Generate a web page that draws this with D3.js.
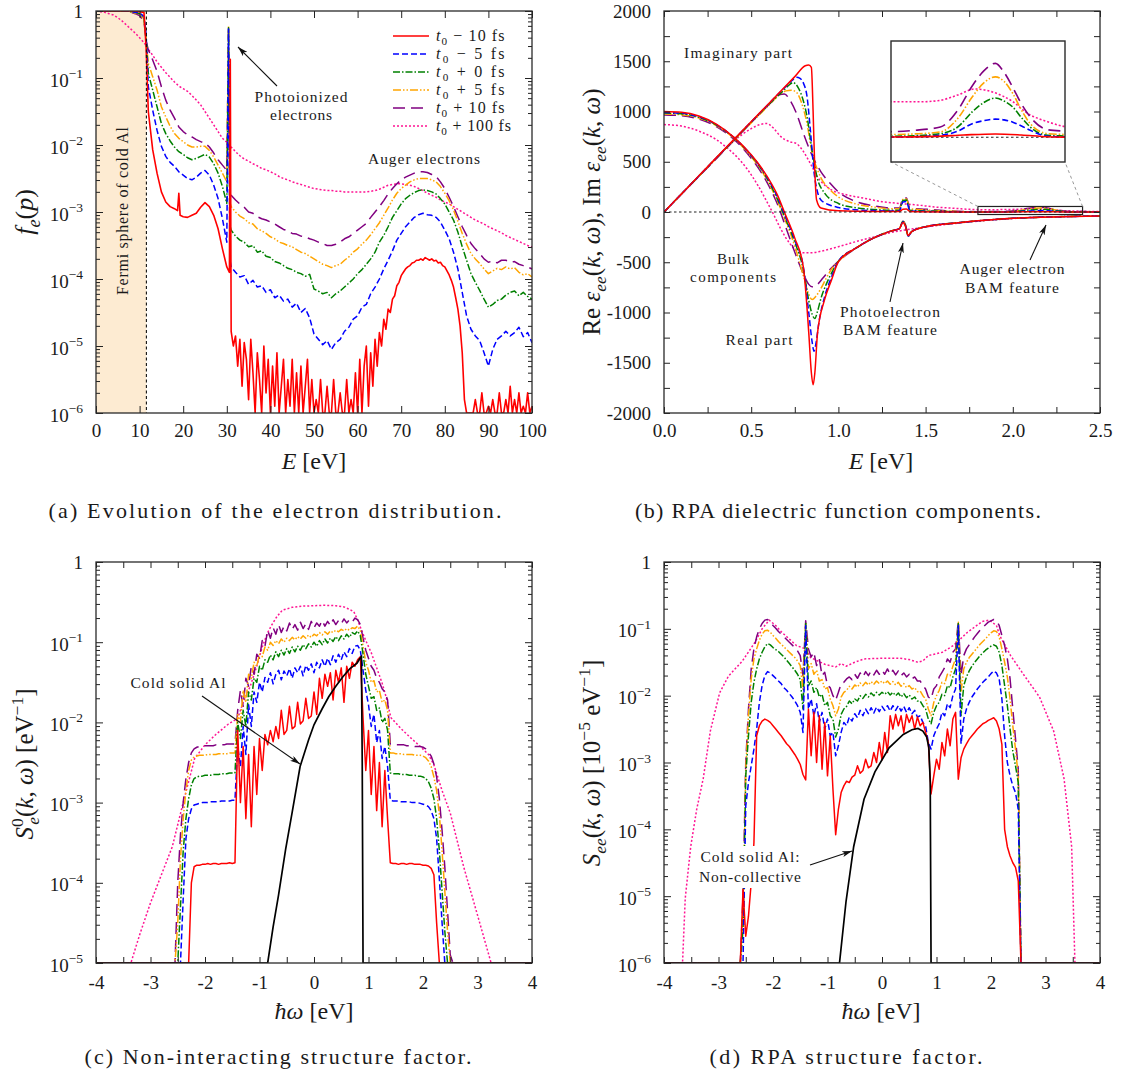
<!DOCTYPE html>
<html>
<head>
<meta charset="utf-8">
<script src="https://cdn.jsdelivr.net/npm/d3@7/dist/d3.min.js"></script>
<style>
html,body{margin:0;padding:0;background:#fff;}
svg{display:block;}
text{font-family:"Liberation Serif","Times New Roman",serif;fill:#1a1a1a;}
</style>
</head>
<body>
<svg id="fig" width="1121" height="1075" viewBox="0 0 1121 1075"></svg>
<script>
// ================= SERIES META =================
const seriesTimes  = ["− 10 fs","− 5 fs","+ 0 fs","+ 5 fs","+ 10 fs","+ 100 fs"];
const seriesColors = ["#ff0000","#0000ff","#008000","#ffa500","#800080","#ff1493"];
const seriesDash   = [null,"6,3","7,2,1.5,2","8,2,1.5,2,1.5,2","12,6","2,2"];

// ================= PANEL (a): f_e(p) vs E [eV], values stored as log10 =================
const FERMI_E = 11.56;
const E_a = [0,1,2,3,4,5,6,7,8,9,10,11,11.5,12,13,14,15,16,17,18,19,20,21,22,23,24,25,26,27,28,29,30,30.4,30.7,
  31,32,33,34,35,36,37,38,39,40,41,42,43,44,45,46,47,48,49,50,51,52,53,54,55,56,57,58,59,60,
  61,62,63,64,65,66,67,68,69,70,71,72,73,74,75,76,77,78,79,80,81,82,83,84,85,86,87,88,89,90,
  91,92,93,94,95,96,97,98,99,100];
const fe_tm5 = [0,0,0,0,0,0,0,0,-0.01,-0.02,-0.03,-0.08,-0.35,
  -1.13,-1.48,-1.78,-2.02,-2.17,-2.26,-2.32,-2.4,-2.45,-2.5,-2.52,-2.48,-2.42,-2.38,-2.45,-2.6,-2.8,-3.1,-3.45,
  -0.27,-3.7,
  -3.82,-3.9,-3.97,-3.95,-4.08,-4.02,-4.12,-4.1,-4.2,-4.16,
  -4.28,-4.24,-4.33,-4.3,-4.42,-4.36,-4.5,-4.44,-4.58,-4.82,
  -4.9,-4.98,-4.92,-5.05,-4.95,-4.9,-4.78,-4.72,-4.6,-4.55,
  -4.42,-4.38,-4.22,-4.12,-4.0,-3.85,-3.72,-3.58,-3.42,-3.32,
  -3.22,-3.15,-3.08,-3.04,-3.02,-3.04,-3.05,-3.08,-3.15,-3.27,
  -3.4,-3.6,-3.85,-4.2,-4.55,-4.75,-4.85,-4.92,-5.1,-5.3,
  -5.05,-4.9,-4.85,-4.78,-4.85,-4.8,-4.72,-4.86,-4.8,-4.95];
const fe_t0 = [0,0,0,0,0,0,0,0,-0.01,-0.02,-0.04,-0.1,-0.4,
  -0.93,-1.18,-1.43,-1.68,-1.83,-1.94,-2.03,-2.1,-2.14,-2.19,-2.22,-2.2,-2.17,-2.14,-2.18,-2.28,-2.42,-2.62,-2.87,
  -0.25,-3.2,
  -3.27,-3.36,-3.42,-3.45,-3.52,-3.5,-3.6,-3.58,-3.66,-3.68,
  -3.74,-3.76,-3.8,-3.84,-3.86,-3.9,-3.92,-3.96,-3.93,-4.15,
  -4.18,-4.22,-4.2,-4.28,-4.22,-4.18,-4.12,-4.06,-4.0,-3.92,
  -3.86,-3.78,-3.7,-3.6,-3.45,-3.35,-3.22,-3.08,-2.98,-2.88,
  -2.8,-2.75,-2.71,-2.68,-2.67,-2.68,-2.7,-2.73,-2.8,-2.88,
  -3.0,-3.12,-3.3,-3.52,-3.72,-3.92,-4.05,-4.17,-4.3,-4.42,
  -4.38,-4.32,-4.3,-4.24,-4.2,-4.18,-4.25,-4.2,-4.26,-4.3];
const fe_tp5 = [0,0,0,0,0,0,0,0,-0.01,-0.03,-0.05,-0.12,-0.45,
  -0.78,-0.98,-1.18,-1.43,-1.58,-1.72,-1.83,-1.9,-1.95,-2.0,-2.03,-2.03,-2.02,-2.02,-2.08,-2.18,-2.3,-2.42,-2.55,
  -0.22,-2.85,
  -2.92,-3.0,-3.06,-3.1,-3.16,-3.18,-3.25,-3.28,-3.32,-3.37,
  -3.4,-3.45,-3.47,-3.5,-3.52,-3.56,-3.6,-3.62,-3.66,-3.7,
  -3.74,-3.78,-3.8,-3.83,-3.8,-3.78,-3.72,-3.67,-3.6,-3.55,
  -3.48,-3.42,-3.34,-3.25,-3.16,-3.05,-2.94,-2.82,-2.72,-2.65,
  -2.6,-2.55,-2.52,-2.5,-2.5,-2.5,-2.52,-2.55,-2.62,-2.72,
  -2.83,-2.97,-3.14,-3.32,-3.48,-3.62,-3.7,-3.77,-3.85,-3.92,
  -3.88,-3.84,-3.86,-3.82,-3.85,-3.83,-3.9,-3.94,-3.92,-3.97];
const fe_tp10 = [0,0,0,0,0,0,0,0,-0.02,-0.04,-0.07,-0.15,-0.45,
  -0.58,-0.73,-0.9,-1.13,-1.33,-1.48,-1.6,-1.73,-1.8,-1.85,-1.88,-1.92,-1.95,-1.97,-2.03,-2.12,-2.22,-2.3,-2.38,
  -0.25,-2.68,
  -2.75,-2.82,-2.88,-2.93,-3.0,-3.02,-3.07,-3.1,-3.12,-3.15,
  -3.18,-3.22,-3.26,-3.28,-3.32,-3.33,-3.36,-3.37,-3.4,-3.42,
  -3.45,-3.47,-3.5,-3.5,-3.48,-3.45,-3.4,-3.37,-3.32,-3.27,
  -3.22,-3.17,-3.08,-3.0,-2.92,-2.83,-2.73,-2.65,-2.58,-2.52,
  -2.48,-2.45,-2.42,-2.4,-2.4,-2.41,-2.44,-2.47,-2.55,-2.65,
  -2.78,-2.92,-3.07,-3.22,-3.35,-3.47,-3.55,-3.62,-3.7,-3.75,
  -3.73,-3.76,-3.72,-3.72,-3.75,-3.74,-3.78,-3.8,-3.82,-3.85];
const fe_tp100 = [0,-0.01,-0.02,-0.04,-0.06,-0.1,-0.15,-0.21,-0.27,-0.33,-0.4,-0.47,-0.52,
  -0.57,-0.66,-0.76,-0.84,-0.92,-0.99,-1.06,-1.12,-1.16,-1.2,-1.26,-1.33,-1.4,-1.5,-1.6,-1.7,-1.8,-1.9,-1.96,
  -1.98,-2.0,
  -2.03,-2.1,-2.16,-2.21,-2.24,-2.28,-2.31,-2.35,-2.37,-2.4,
  -2.43,-2.47,-2.5,-2.52,-2.55,-2.57,-2.59,-2.61,-2.63,-2.65,
  -2.66,-2.67,-2.68,-2.68,-2.69,-2.69,-2.7,-2.7,-2.7,-2.7,
  -2.7,-2.7,-2.69,-2.68,-2.66,-2.63,-2.6,-2.59,-2.58,-2.58,
  -2.59,-2.6,-2.62,-2.65,-2.68,-2.72,-2.75,-2.78,-2.82,-2.85,
  -2.88,-2.92,-2.96,-3.0,-3.04,-3.08,-3.12,-3.15,-3.18,-3.22,
  -3.25,-3.28,-3.31,-3.35,-3.38,-3.41,-3.44,-3.47,-3.5,-3.52];
// red (t0 - 10 fs): own sampling
const E_a_red = [0,1,2,3,4,5,6,7,8,9,10,11,11.5,12,13,14,15,16,17,18,18.7,19,19.3,20,21,22,23,24,25,26,27,28,29,30,30.6,30.8,31];
const fe_tm10 = [0,0,0,0,0,0,0,0,0,0,-0.01,-0.02,-0.55,-1.5,-2.07,-2.42,-2.7,-2.85,-2.92,-2.95,-2.98,-2.72,-3.05,
  -3.07,-3.08,-3.05,-3.02,-2.93,-2.86,-2.92,-3.05,-3.25,-3.55,-3.82,-3.9,-0.72,-4.78];
const redNoiseStartE = 31.5, redNoiseStepE = 0.5;
const fe_tm10_noise = [
  -5.0,-4.85,-5.3,-4.9,-5.6,-4.95,-5.2,-5.8,-4.9,-5.4,
  -6.0,-5.1,-5.5,-6.2,-5.0,-5.7,-5.2,-6.3,-5.3,-5.9,
  -5.1,-6.5,-5.6,-5.2,-6.3,-5.5,-5.9,-5.2,-6.5,-5.4,
  -6.1,-5.3,-6.5,-5.6,-5.2,-6.4,-5.5,-6.5,-5.8,-6.5,
  -5.5,-6.5,-6.0,-5.6,-6.5,-6.1,-5.5,-6.5,-6.5,-5.7,
  -6.5,-6.0,-5.5,-6.5,-5.8,-6.5,-5.4,-6.3,-5.2,-6.0,
  -5.3,-5.0,-5.9,-5.1,-5.6,-4.9,-5.3,-4.8,-5.0,-4.6,
  -4.75,-4.45,-4.5,-4.3,-4.25,-4.1,-4.05,-3.95,-3.9,-3.85,
  -3.82,-3.8,-3.76,-3.75,-3.72,-3.72,-3.7,-3.72,-3.68,-3.7,
  -3.72,-3.7,-3.73,-3.72,-3.76,-3.75,-3.8,-3.82,-3.88,-3.94,
  -4.02,-4.12,-4.28,-4.45,-4.7,-5.1,-5.8,-6.5,-6.5,-6.5,
  -6.5,-5.8,-6.5,-6.5,-5.7,-6.5,-6.5,-5.9,-6.5,-5.8,
  -6.5,-6.5,-5.7,-6.5,-6.2,-5.8,-6.5,-5.6,-6.5,-5.8,
  -6.5,-5.7,-6.5,-5.9,-6.3,-5.7,-6.5,-5.9];

// ================= PANEL (b): dielectric function, pairs [E, value] =================
const re_tm10 = [[0,1000],[0.1,992],[0.2,955],[0.3,875],[0.4,745],[0.5,570],[0.55,460],[0.6,330],[0.65,170],[0.69,0],[0.75,-260],[0.8,-560],[0.83,-1200],[0.845,-1600],[0.855,-1720],[0.865,-1600],[0.88,-1210],[0.92,-877],[0.96,-678],[1.0,-495],[1.1,-360],[1.2,-260],[1.3,-190],[1.35,-165],[1.37,-105],[1.385,-145],[1.4,-235],[1.42,-195],[1.5,-146],[1.7,-105],[2.0,-63],[2.5,-40]];
const re_tm5 = [[0,990],[0.1,982],[0.2,948],[0.3,870],[0.4,742],[0.5,565],[0.55,455],[0.6,320],[0.65,150],[0.69,-20],[0.75,-280],[0.8,-560],[0.83,-1000],[0.85,-1300],[0.86,-1385],[0.87,-1320],[0.89,-1080],[0.92,-850],[0.96,-650],[1.0,-490],[1.1,-360],[1.2,-260],[1.3,-190],[1.35,-165],[1.37,-100],[1.385,-140],[1.4,-240],[1.42,-195],[1.5,-146],[1.7,-105],[2.0,-63],[2.5,-40]];
const re_t0 = [[0,985],[0.1,977],[0.2,943],[0.3,866],[0.4,740],[0.5,560],[0.55,448],[0.6,305],[0.65,130],[0.69,-40],[0.75,-300],[0.8,-580],[0.83,-880],[0.85,-1020],[0.865,-1060],[0.88,-990],[0.9,-860],[0.93,-720],[0.96,-610],[1.0,-490],[1.1,-360],[1.2,-260],[1.3,-190],[1.35,-165],[1.37,-95],[1.385,-135],[1.4,-240],[1.42,-195],[1.5,-146],[1.7,-105],[2.0,-63],[2.5,-40]];
const re_tp5 = [[0,975],[0.1,968],[0.2,935],[0.3,860],[0.4,735],[0.5,550],[0.55,435],[0.6,290],[0.65,110],[0.69,-60],[0.75,-340],[0.8,-640],[0.83,-820],[0.85,-870],[0.87,-840],[0.9,-760],[0.93,-660],[0.96,-570],[1.0,-490],[1.1,-360],[1.2,-260],[1.3,-190],[1.35,-163],[1.37,-90],[1.385,-130],[1.4,-235],[1.42,-195],[1.5,-146],[1.7,-105],[2.0,-63],[2.5,-40]];
const re_tp10 = [[0,965],[0.1,958],[0.2,925],[0.3,850],[0.4,725],[0.5,535],[0.55,415],[0.6,265],[0.65,80],[0.7,-160],[0.75,-400],[0.8,-620],[0.83,-720],[0.85,-745],[0.88,-720],[0.91,-660],[0.95,-575],[1.0,-490],[1.1,-362],[1.2,-262],[1.3,-192],[1.35,-165],[1.37,-92],[1.385,-130],[1.4,-235],[1.42,-195],[1.5,-146],[1.7,-105],[2.0,-63],[2.5,-40]];
const re_tp100 = [[0,870],[0.1,855],[0.2,805],[0.3,720],[0.36,640],[0.42,545],[0.48,420],[0.54,260],[0.6,70],[0.63,-30],[0.67,-170],[0.72,-310],[0.76,-385],[0.8,-405],[0.85,-405],[0.9,-390],[1.0,-345],[1.1,-295],[1.2,-250],[1.3,-205],[1.38,-180],[1.5,-150],[1.7,-108],[2.0,-65],[2.5,-40]];
const im_tm10 = [[0,0],[0.2,360],[0.4,720],[0.6,1078],[0.75,1347],[0.81,1455],[0.83,1462],[0.845,1440],[0.855,1000],[0.865,400],[0.875,120],[0.9,40],[1.0,12],[1.2,5],[1.35,5],[1.37,28],[1.39,30],[1.41,5],[1.6,1],[1.8,0.2],[1.95,0.6],[2.05,1.5],[2.16,2.2],[2.25,1.5],[2.34,0.3],[2.4,0.1],[2.5,0]];
const im_tm5 = [[0,0],[0.2,359],[0.4,718],[0.6,1075],[0.7,1252],[0.74,1318],[0.76,1342],[0.78,1330],[0.8,1280],[0.82,1150],[0.84,800],[0.86,400],[0.88,200],[0.9,120],[0.95,70],[1.0,45],[1.1,22],[1.2,14],[1.3,10],[1.35,12],[1.37,100],[1.39,105],[1.41,12],[1.5,6],[1.65,2],[1.8,0.2],[1.88,0.4],[1.97,1.3],[2.03,4],[2.08,9],[2.12,11],[2.16,12],[2.19,11.5],[2.22,10],[2.25,7.5],[2.28,4.6],[2.34,0.7],[2.4,0.3],[2.5,0.1]];
const im_t0 = [[0,0],[0.2,358],[0.4,715],[0.6,1070],[0.68,1200],[0.72,1268],[0.74,1288],[0.77,1235],[0.8,1100],[0.82,950],[0.85,600],[0.88,330],[0.92,190],[1.0,85],[1.1,42],[1.2,26],[1.3,17],[1.35,18],[1.37,115],[1.39,120],[1.41,18],[1.5,11],[1.65,4],[1.8,0.7],[1.88,1],[1.97,2.4],[2.03,6.8],[2.08,16.8],[2.12,23],[2.16,26],[2.19,24],[2.22,20],[2.25,13],[2.28,6.8],[2.34,1.3],[2.4,0.8],[2.5,0.3]];
const im_tp5 = [[0,0],[0.2,356],[0.4,712],[0.6,1060],[0.66,1165],[0.7,1205],[0.73,1212],[0.76,1190],[0.79,1080],[0.82,880],[0.85,580],[0.88,420],[0.9,340],[0.95,225],[1.0,150],[1.1,80],[1.2,50],[1.3,32],[1.35,33],[1.37,125],[1.39,130],[1.41,33],[1.5,20],[1.65,7],[1.8,1.8],[1.88,2.2],[1.97,3.5],[2.03,12.4],[2.08,26.7],[2.12,36],[2.16,40],[2.19,37],[2.22,29],[2.25,18],[2.28,9],[2.34,2.4],[2.4,1.8],[2.5,1]];
const im_tp10 = [[0,0],[0.2,355],[0.4,708],[0.55,980],[0.62,1100],[0.66,1165],[0.69,1175],[0.72,1120],[0.76,980],[0.8,780],[0.85,560],[0.9,400],[0.95,290],[1.0,200],[1.1,105],[1.2,62],[1.3,40],[1.35,40],[1.37,135],[1.39,140],[1.41,40],[1.5,28],[1.65,10],[1.8,3.7],[1.88,4.6],[1.97,6.8],[2.03,17.9],[2.08,34],[2.12,44],[2.16,49],[2.19,43],[2.22,33],[2.25,22],[2.28,13.5],[2.34,5],[2.4,4],[2.5,3]];
const im_tp100 = [[0,0],[0.2,355],[0.4,705],[0.5,830],[0.55,870],[0.59,880],[0.63,830],[0.67,750],[0.72,700],[0.76,680],[0.8,600],[0.84,480],[0.88,350],[0.92,270],[0.96,220],[1.05,170],[1.15,136],[1.25,103],[1.35,85],[1.45,70],[1.55,50],[1.66,37],[1.75,27],[1.8,23.6],[1.9,23.5],[1.97,24.5],[2.03,28],[2.09,32],[2.15,30],[2.22,23.6],[2.27,15.9],[2.34,10.3],[2.4,7],[2.5,5]];
const insetRangeE = [1.8, 2.4];
const insetRangeV = [-16.4, 63.8];
const zoomBox = [[1.8,-25],[2.4,55]];

// ================= PANELS (c),(d): structure factors, log10 values =================
const FLOOR = -7;   // below the axis: line lies on the bottom frame
const OMEGA_START = -2.6, OMEGA_STEP = 0.05;   // 105 samples, -2.6 ... 2.6
const S0_tm10 = [-7,-7,-7,-7,-7,-7,-5.5,-4.0,-3.8,-3.78,-3.78,
  -3.77,-3.77,-3.76,-3.77,-3.76,-3.76,-3.77,-3.76,-3.76,-3.76,-3.75,-3.76,-3.75,
  -2.1,-3.0,-2.3,-3.2,-2.4,-3.3,-2.3,-2.9,-2.2,-2.6,
  -2.15,-2.28,-2.1,-2.24,-2.05,-2.2,-1.85,-2.15,-2.1,-1.8,
  -2.08,-2.05,-1.75,-2.02,-1.98,-1.7,-1.95,-1.92,-1.62,-1.9,
  -1.45,-1.7,-1.4,-1.55,-1.38,-1.72,-1.35,-1.5,-1.32,-1.75,
  -1.3,-1.45,-1.25,-1.3,-1.22,-1.18,-1.95,-2.6,-2.1,-2.9,
  -2.3,-3.1,-2.5,-3.3,-2.6,-3.2,-3.75,
  -3.76,-3.76,-3.77,-3.76,-3.76,-3.77,-3.76,-3.76,-3.77,-3.77,-3.77,-3.78,-3.78,-3.79,
  -3.82,-3.9,-4.5,-7,-7,-7,-7,-7,-7,-7];
const S0_tm5 = [-7,-7,-7,-5.3,-4.2,-3.45,-3.2,-3.08,-3.03,-3.02,-3.01,
  -3.0,-3.0,-3.0,-2.99,-2.99,-2.99,-2.99,-2.98,-2.98,-2.98,-2.98,-2.97,-2.97,
  -2.3,-2.55,-2.05,-2.4,-1.78,-2.05,-1.62,-1.75,-1.5,-1.62,
  -1.44,-1.5,-1.38,-1.52,-1.4,-1.35,-1.47,-1.36,-1.42,-1.33,
  -1.45,-1.32,-1.38,-1.3,-1.42,-1.29,-1.35,-1.27,-1.38,-1.25,
  -1.32,-1.22,-1.3,-1.2,-1.28,-1.17,-1.25,-1.15,-1.22,-1.12,
  -1.18,-1.08,-1.14,-1.05,-1.04,-1.1,-1.35,-1.6,-1.78,-2.05,
  -1.9,-2.25,-2.1,-2.45,-2.3,-2.55,-2.97,
  -2.98,-2.98,-2.98,-2.99,-2.99,-2.99,-2.99,-3.0,-3.0,-3.0,-3.01,-3.02,
  -3.03,-3.05,-3.1,-3.2,-3.45,-3.95,-4.5,-5.3,-7,-7,-7,-7];
const S0_t0 = [-7,-7,-5.5,-4.3,-3.6,-3.2,-2.95,-2.78,-2.7,-2.68,-2.67,
  -2.67,-2.66,-2.66,-2.66,-2.65,-2.65,-2.65,-2.64,-2.64,-2.64,-2.63,-2.63,-2.63,
  -2.0,-2.2,-1.85,-2.05,-1.62,-1.72,-1.45,-1.5,-1.3,-1.35,
  -1.22,-1.25,-1.16,-1.22,-1.12,-1.18,-1.1,-1.16,-1.08,-1.14,
  -1.06,-1.12,-1.05,-1.1,-1.03,-1.08,-1.02,-1.06,-1.0,-1.05,
  -0.98,-1.03,-0.96,-1.01,-0.95,-0.99,-0.93,-0.98,-0.92,-0.96,
  -0.9,-0.94,-0.88,-0.9,-0.86,-0.92,-1.15,-1.4,-1.55,-1.7,
  -1.68,-1.85,-1.82,-2.0,-1.95,-2.1,-2.63,
  -2.64,-2.64,-2.64,-2.65,-2.65,-2.65,-2.66,-2.66,-2.66,-2.67,-2.67,
  -2.68,-2.7,-2.74,-2.82,-2.95,-3.2,-3.6,-4.1,-4.6,-5.4,-7,-7,-7];
const S0_tp5 = [-7,-5.6,-4.5,-3.7,-3.2,-2.85,-2.6,-2.47,-2.43,-2.42,-2.41,
  -2.41,-2.41,-2.4,-2.4,-2.4,-2.4,-2.39,-2.39,-2.39,-2.39,-2.38,-2.38,-2.38,
  -1.9,-2.0,-1.6,-1.75,-1.4,-1.45,-1.25,-1.3,-1.15,-1.18,
  -1.06,-1.1,-1.0,-1.04,-0.98,-1.02,-0.96,-1.0,-0.95,-0.98,
  -0.94,-0.97,-0.93,-0.96,-0.92,-0.95,-0.91,-0.94,-0.9,-0.92,
  -0.88,-0.91,-0.87,-0.9,-0.86,-0.88,-0.85,-0.87,-0.84,-0.86,
  -0.83,-0.85,-0.82,-0.83,-0.8,-0.85,-1.05,-1.25,-1.35,-1.5,
  -1.48,-1.62,-1.6,-1.75,-1.72,-1.85,-2.38,
  -2.38,-2.39,-2.39,-2.39,-2.4,-2.4,-2.4,-2.4,-2.41,-2.41,-2.41,
  -2.42,-2.44,-2.48,-2.55,-2.68,-2.85,-3.15,-3.6,-4.1,-4.6,-5.4,-7,-7];
const S0_tp10 = [-7,-5.2,-4.0,-3.4,-3.0,-2.7,-2.5,-2.38,-2.33,-2.31,-2.3,
  -2.3,-2.29,-2.29,-2.29,-2.29,-2.28,-2.28,-2.28,-2.28,-2.27,-2.27,-2.27,-2.27,
  -1.85,-1.6,-1.8,-1.45,-1.55,-1.3,-1.4,-1.15,-1.2,-0.98,
  -1.05,-0.85,-0.95,-0.82,-0.9,-0.78,-0.88,-0.8,-0.86,-0.76,
  -0.84,-0.78,-0.85,-0.75,-0.83,-0.77,-0.84,-0.74,-0.82,-0.76,
  -0.8,-0.73,-0.8,-0.74,-0.79,-0.72,-0.78,-0.73,-0.77,-0.71,
  -0.76,-0.72,-0.75,-0.7,-0.72,-0.78,-0.95,-1.1,-1.2,-1.3,
  -1.35,-1.45,-1.5,-1.58,-1.62,-1.72,-2.27,
  -2.27,-2.28,-2.28,-2.28,-2.28,-2.29,-2.29,-2.29,-2.3,-2.3,-2.3,
  -2.31,-2.33,-2.37,-2.42,-2.52,-2.68,-2.95,-3.35,-3.8,-4.35,-4.9,-6,-7];
const S0_tp100 = [[-4,-7],[-3.36,-5.0],[-3.2,-4.65],[-3.0,-4.25],[-2.8,-3.9],[-2.6,-3.55],[-2.4,-3.0],[-2.19,-2.45],[-2.0,-2.28],[-1.8,-2.15],[-1.57,-2.02],[-1.4,-1.95],[-1.3,-1.75],[-1.17,-1.55],[-1.05,-1.3],[-0.94,-1.04],[-0.85,-0.88],[-0.78,-0.79],[-0.68,-0.68],[-0.58,-0.6],[-0.4,-0.565],[-0.2,-0.55],[0,-0.545],[0.2,-0.54],[0.4,-0.545],[0.55,-0.56],[0.65,-0.59],[0.73,-0.62],[0.8,-0.72],[0.86,-0.83],[0.95,-0.98],[1.05,-1.13],[1.15,-1.32],[1.25,-1.51],[1.33,-1.7],[1.41,-1.94],[1.6,-2.08],[1.77,-2.19],[1.95,-2.3],[2.1,-2.4],[2.2,-2.53],[2.35,-2.85],[2.5,-3.13],[2.75,-3.81],[3.02,-4.45],[3.25,-5.0],[3.3,-7],[4,-7]];
const S0_cold = [[-4,-7],[-0.85,-5.0],[-0.75,-4.55],[-0.65,-4.15],[-0.52,-3.58],[-0.4,-3.12],[-0.255,-2.55],[-0.1,-2.22],[0.0,-2.03],[0.15,-1.83],[0.27,-1.68],[0.4,-1.55],[0.53,-1.43],[0.66,-1.33],[0.79,-1.26],[0.845,-1.2],[0.87,-1.18],[0.885,-2.5],[0.9,-5.0],[4,-7]];

const See_tm10 = [-7,-4.9,-5.6,-5.3,-4.8,-4.2,-2.6,-2.45,-2.38,-2.35,-2.37,
  -2.4,-2.45,-2.5,-2.55,-2.6,-2.66,-2.72,-2.76,-2.82,-2.88,-2.95,-3.03,-3.18,
  -3.26,-2.2,-2.9,-2.25,-3.0,-2.3,-3.1,-2.4,-3.2,-2.6,
  -3.4,-4.08,-3.7,-3.45,-3.35,-3.28,-3.3,-3.22,-3.19,-3.05,
  -3.16,-3.12,-2.95,-3.08,-3.05,-2.85,-3.0,-2.7,-2.96,-2.55,
  -2.85,-2.3,-2.5,-2.28,-2.45,-2.3,-2.55,-2.28,-2.4,-2.3,
  -2.5,-2.32,-2.45,-2.4,-2.55,-2.7,-3.47,-3.2,-2.95,-3.1,
  -2.7,-2.9,-2.5,-2.75,-2.35,-2.25,-3.25,
  -2.93,-2.8,-2.72,-2.65,-2.6,-2.55,-2.5,-2.46,-2.42,-2.4,-2.37,-2.35,
  -2.33,-2.38,-2.5,-2.73,-4.0,-4.26,-4.4,-4.5,-4.57,-4.77,-7,-7];
const See_tm5 = [-7,-6,-3.65,-3.3,-3.05,-2.8,-2.5,-2.1,-1.85,-1.7,-1.64,
  -1.66,-1.7,-1.74,-1.78,-1.82,-1.88,-1.92,-1.97,-2.02,-2.08,-2.15,-2.25,-2.55,
  -0.95,-2.2,-2.05,-2.3,-2.12,-2.4,-2.25,-2.5,-2.35,-2.6,
  -2.55,-2.9,-2.75,-2.55,-2.4,-2.45,-2.32,-2.38,-2.27,-2.33,
  -2.22,-2.3,-2.2,-2.27,-2.18,-2.26,-2.17,-2.24,-2.16,-2.22,
  -2.15,-2.23,-2.15,-2.22,-2.15,-2.23,-2.16,-2.25,-2.18,-2.27,
  -2.22,-2.32,-2.3,-2.4,-2.45,-2.7,-2.8,-2.6,-2.5,-2.42,
  -2.25,-2.3,-2.12,-2.18,-2.0,-1.9,-0.95,
  -2.72,-2.35,-2.2,-2.1,-2.02,-1.96,-1.9,-1.85,-1.8,-1.76,-1.72,-1.67,
  -1.63,-1.66,-1.75,-2.05,-2.6,-3.0,-3.2,-3.35,-3.45,-3.7,-6,-7];
const See_t0 = [-7,-5.5,-3.2,-2.6,-2.1,-1.8,-1.6,-1.45,-1.35,-1.27,-1.22,
  -1.24,-1.28,-1.31,-1.34,-1.38,-1.42,-1.47,-1.52,-1.57,-1.62,-1.68,-1.76,-2.2,
  -0.92,-1.85,-1.78,-1.95,-1.88,-2.02,-1.98,-2.15,-2.1,-2.3,
  -2.35,-2.62,-2.5,-2.28,-2.2,-2.16,-2.08,-2.12,-2.05,-2.08,
  -2.0,-2.04,-1.98,-2.02,-1.96,-2.0,-1.95,-1.99,-1.95,-1.98,
  -1.94,-1.99,-1.95,-2.0,-1.96,-2.02,-1.97,-2.03,-1.99,-2.05,
  -2.02,-2.08,-2.08,-2.15,-2.2,-2.35,-2.42,-2.25,-2.15,-2.1,
  -1.98,-2.0,-1.85,-1.88,-1.72,-1.6,-0.92,
  -2.3,-1.85,-1.72,-1.63,-1.56,-1.5,-1.45,-1.4,-1.36,-1.32,-1.29,-1.26,
  -1.24,-1.26,-1.35,-1.55,-1.85,-2.15,-2.5,-2.83,-3.05,-3.3,-6,-7];
const See_tp5 = [-7,-5.3,-3.1,-2.3,-1.75,-1.45,-1.3,-1.17,-1.08,-1.03,-1.02,
  -1.05,-1.1,-1.14,-1.19,-1.23,-1.27,-1.31,-1.35,-1.39,-1.43,-1.48,-1.55,-1.9,
  -0.9,-1.6,-1.52,-1.68,-1.62,-1.78,-1.76,-1.9,-1.88,-2.05,
  -2.15,-2.3,-2.2,-2.02,-1.95,-1.92,-1.86,-1.9,-1.84,-1.87,
  -1.81,-1.85,-1.8,-1.84,-1.79,-1.83,-1.78,-1.82,-1.78,-1.82,
  -1.78,-1.83,-1.79,-1.84,-1.8,-1.86,-1.82,-1.88,-1.85,-1.9,
  -1.88,-1.94,-1.93,-2.0,-2.05,-2.2,-2.3,-2.1,-2.0,-1.92,
  -1.8,-1.82,-1.68,-1.7,-1.56,-1.45,-0.9,
  -1.95,-1.6,-1.5,-1.43,-1.38,-1.33,-1.28,-1.23,-1.19,-1.15,-1.1,-1.06,
  -1.03,-1.04,-1.12,-1.3,-1.5,-1.72,-2.05,-2.45,-2.8,-3.2,-6,-7];
const See_tp10 = [-7,-5.0,-3.0,-2.2,-1.6,-1.3,-1.12,-1.0,-0.92,-0.87,-0.86,
  -0.9,-0.95,-0.99,-1.04,-1.08,-1.12,-1.16,-1.2,-1.24,-1.28,-1.33,-1.4,-1.7,
  -0.88,-1.3,-1.42,-1.35,-1.55,-1.45,-1.7,-1.65,-1.85,-1.88,
  -2.0,-2.07,-1.95,-1.82,-1.8,-1.75,-1.72,-1.76,-1.68,-1.74,
  -1.66,-1.72,-1.64,-1.7,-1.63,-1.69,-1.62,-1.68,-1.62,-1.68,
  -1.6,-1.68,-1.62,-1.69,-1.63,-1.7,-1.66,-1.72,-1.68,-1.75,
  -1.72,-1.78,-1.78,-1.85,-1.9,-2.02,-2.05,-1.9,-1.85,-1.72,
  -1.65,-1.58,-1.45,-1.5,-1.35,-1.3,-0.88,
  -1.7,-1.4,-1.3,-1.24,-1.18,-1.12,-1.07,-1.02,-0.98,-0.94,-0.9,-0.88,
  -0.86,-0.88,-0.95,-1.1,-1.25,-1.45,-1.75,-2.2,-2.65,-3.1,-6,-7];
const See_tp100 = [[-4,-7],[-3.66,-6],[-3.61,-5.03],[-3.51,-4.26],[-3.4,-3.7],[-3.28,-3.24],[-3.15,-2.53],[-2.98,-1.96],[-2.82,-1.71],[-2.56,-1.48],[-2.33,-1.2],[-2.2,-1.0],[-2.07,-0.87],[-1.95,-0.95],[-1.84,-1.05],[-1.57,-1.25],[-1.4,-1.3],[-1.31,-1.43],[-1.05,-1.53],[-0.85,-1.57],[-0.75,-1.52],[-0.66,-1.56],[-0.5,-1.5],[-0.33,-1.45],[0,-1.44],[0.33,-1.44],[0.5,-1.46],[0.66,-1.5],[0.75,-1.48],[0.85,-1.4],[1.11,-1.35],[1.31,-1.25],[1.57,-1.05],[1.84,-0.89],[1.97,-0.87],[2.1,-0.95],[2.16,-1.1],[2.36,-1.4],[2.62,-1.71],[2.89,-2.02],[3.15,-2.53],[3.34,-3.24],[3.48,-4.26],[3.54,-6],[4,-7]];
const See_cold = [[-4,-7],[-0.78,-6],[-0.66,-5.08],[-0.52,-4.26],[-0.33,-3.55],[-0.13,-3.14],[0.13,-2.78],[0.39,-2.58],[0.55,-2.51],[0.66,-2.49],[0.75,-2.53],[0.82,-2.62],[0.86,-2.78],[0.885,-3.3],[0.9,-6],[4,-7]];

// ================= TICK LABELS / TEXT =================
const xTicksA = [0,10,20,30,40,50,60,70,80,90,100];
const xTicksB = [0,0.5,1.0,1.5,2.0,2.5];
const xMinorB = [0.25,0.75,1.25,1.75,2.25];
const yTicksB = [-2000,-1500,-1000,-500,0,500,1000,1500,2000];
const yMinorB = [-1750,-1250,-750,-250,250,750,1250,1750];
const xTicksCD = [-4,-3,-2,-1,0,1,2,3,4];
const xMinorCD = [-3.5,-2.5,-1.5,-0.5,0.5,1.5,2.5,3.5];
const captions = ["(a) Evolution of the electron distribution.","(b) RPA dielectric function components.",
                  "(c) Non-interacting structure factor.","(d) RPA structure factor."];

// ================= DRAWING =================
const FONT = "'Liberation Serif','Times New Roman',serif";
const INK = "#1a1a1a";
const svg = d3.select("#fig");
const defs = svg.append("defs");
defs.append("marker").attr("id","ah").attr("viewBox","0 0 10 6").attr("refX",10).attr("refY",3)
  .attr("markerWidth",10).attr("markerHeight",6).attr("markerUnits","userSpaceOnUse").attr("orient","auto")
  .append("path").attr("d","M0,0L10,3L0,6L2.5,3Z").attr("fill","#111");

function mkPanel(id, x0, y0, w, h) {
  defs.append("clipPath").attr("id","cp"+id).append("rect").attr("x",x0).attr("y",y0).attr("width",w).attr("height",h);
  const g = svg.append("g");
  return {x0,y0,w,h,g, under:g.append("g"), plot:g.append("g").attr("clip-path",`url(#cp${id})`), over:g.append("g")};
}
function axisStyle(sel){
  sel.attr("font-family",FONT);
  sel.select(".domain").remove();
  sel.selectAll(".tick line").attr("stroke","#222").attr("stroke-width",1);
  sel.selectAll(".tick text").attr("font-family",FONT).attr("font-size",19).attr("fill",INK);
}
const noLab = () => "";
function xAxes(P, x, majors, minors, fmt, pad, lenMaj, lenMin) {
  P.over.append("g").attr("transform",`translate(0,${P.y0+P.h})`)
    .call(d3.axisBottom(x).tickValues(majors).tickSize(-lenMaj).tickPadding(pad).tickFormat(fmt)).call(axisStyle);
  P.over.append("g").attr("transform",`translate(0,${P.y0})`)
    .call(d3.axisTop(x).tickValues(majors).tickSize(-lenMaj).tickFormat(noLab)).call(axisStyle);
  if (minors) {
    P.over.append("g").attr("transform",`translate(0,${P.y0+P.h})`)
      .call(d3.axisBottom(x).tickValues(minors).tickSize(-lenMin).tickFormat(noLab)).call(axisStyle);
    P.over.append("g").attr("transform",`translate(0,${P.y0})`)
      .call(d3.axisTop(x).tickValues(minors).tickSize(-lenMin).tickFormat(noLab)).call(axisStyle);
  }
}
function yAxesLin(P, y, majors, minors, len) {
  P.over.append("g").attr("transform",`translate(${P.x0},0)`)
    .call(d3.axisLeft(y).tickValues(majors).tickSize(-len).tickPadding(13).tickFormat(d=>String(d))).call(axisStyle);
  P.over.append("g").attr("transform",`translate(${P.x0+P.w},0)`)
    .call(d3.axisRight(y).tickValues(majors).tickSize(-len).tickFormat(noLab)).call(axisStyle);
  P.over.append("g").attr("transform",`translate(${P.x0},0)`)
    .call(d3.axisLeft(y).tickValues(minors).tickSize(-len).tickFormat(noLab)).call(axisStyle);
  P.over.append("g").attr("transform",`translate(${P.x0+P.w},0)`)
    .call(d3.axisRight(y).tickValues(minors).tickSize(-len).tickFormat(noLab)).call(axisStyle);
}
function yAxesLog(P, y, eLo, eHi) {
  const majors = d3.range(eLo, eHi+1).map(e => Math.pow(10,e));
  const minors = [];
  for (let e=eLo; e<eHi; e++) for (let m=2; m<=9; m++) minors.push(m*Math.pow(10,e));
  [[d3.axisLeft,P.x0],[d3.axisRight,P.x0+P.w]].forEach(([A,xx]) => {
    P.over.append("g").attr("transform",`translate(${xx},0)`).call(A(y).tickValues(majors).tickSize(-7).tickFormat(noLab)).call(axisStyle);
    P.over.append("g").attr("transform",`translate(${xx},0)`).call(A(y).tickValues(minors).tickSize(-4).tickFormat(noLab)).call(axisStyle);
  });
  majors.forEach(v => {
    const e = Math.round(Math.log10(v));
    const t = P.over.append("text").attr("x",P.x0-13).attr("text-anchor","end").attr("font-size",19).attr("fill",INK);
    if (e === 0) t.attr("y", y(v)+6.5).text("1");
    else {
      t.attr("y", y(v)+8.5);
      t.append("tspan").text("10");
      t.append("tspan").attr("dy",-8.5).attr("font-size",13.5).text("−"+(-e));
    }
  });
}
function frame(P) {
  P.over.append("rect").attr("x",P.x0).attr("y",P.y0).attr("width",P.w).attr("height",P.h)
    .attr("fill","none").attr("stroke","#2a2a2a").attr("stroke-width",1.3);
}
function rich(parent, x, y, parts, fs, opts) {
  opts = opts || {};
  const t = parent.append("text").attr("x",x).attr("y",y).attr("font-size",fs)
    .attr("text-anchor",opts.anchor||"middle").attr("fill",INK);
  if (opts.rotate) t.attr("transform",`rotate(${opts.rotate},${x},${y})`);
  if (opts.len) t.attr("textLength",opts.len).attr("lengthAdjust","spacing");
  let cur = 0;
  parts.forEach(p => {
    const shift = p.sub ? 0.25*fs : (p.sup ? -0.42*fs : 0);
    const s = t.append("tspan").text(p.t).attr("dy", shift-cur);
    cur = shift;
    if (p.i) s.attr("font-style","italic");
    if (p.sub || p.sup) s.attr("font-size", 0.7*fs);
    if (p.dx) s.attr("dx", p.dx);
  });
  return t;
}
function label(parent, x, y, s, fs, len, opts) {
  opts = opts || {};
  const t = parent.append("text").attr("x",x).attr("y",y).attr("font-size",fs)
    .attr("text-anchor",opts.anchor||"middle").attr("fill",INK).text(s);
  if (len) t.attr("textLength",len).attr("lengthAdjust","spacing");
  if (opts.rotate) t.attr("transform",`rotate(${opts.rotate},${x},${y})`);
  return t;
}
function arrow(parent, x1, y1, x2, y2) {
  parent.append("line").attr("x1",x1).attr("y1",y1).attr("x2",x2).attr("y2",y2)
    .attr("stroke","#111").attr("stroke-width",1.1).attr("marker-end","url(#ah)");
}
function path(parent, pts, line, k, w) {
  parent.append("path").datum(pts).attr("d",line).attr("fill","none")
    .attr("stroke",seriesColors[k]).attr("stroke-width",w||1.5)
    .attr("stroke-dasharray",seriesDash[k]).attr("stroke-linejoin","round");
}
const p10 = v => Math.pow(10,v);

// ---------- (a) ----------
{
  const P = mkPanel("a",96,11,436,402);
  const x = d3.scaleLinear().domain([0,100]).range([96,532]);
  const y = d3.scaleLog().domain([1e-6,1]).range([413,11]).clamp(true);
  P.under.append("rect").attr("x",x(0)).attr("y",11).attr("width",x(FERMI_E)-x(0)).attr("height",402).attr("fill","#fdebd2");
  const line = d3.line().x(d=>x(d[0])).y(d=>y(p10(d[1])));
  const seriesA = [null, fe_tm5, fe_t0, fe_tp5, fe_tp10, fe_tp100];
  for (let k=5; k>=1; k--) path(P.plot, E_a.map((e,i)=>[e, seriesA[k][i]]), line, k);
  const redPts = E_a_red.map((e,i)=>[e, fe_tm10[i]])
    .concat(fe_tm10_noise.map((v,i)=>[redNoiseStartE + redNoiseStepE*i, v]));
  path(P.plot, redPts, line, 0, 1.6);
  P.plot.append("line").attr("x1",x(FERMI_E)).attr("x2",x(FERMI_E)).attr("y1",11).attr("y2",413)
    .attr("stroke","#111").attr("stroke-width",1.1).attr("stroke-dasharray","3,2.5");
  xAxes(P, x, xTicksA, null, d=>String(d), 11, 7, 4);
  yAxesLog(P, y, -6, 0);
  frame(P);
  rich(svg, 33, 212, [{t:"f",i:true},{t:"e",i:true,sub:true},{t:"("},{t:"p",i:true},{t:")"}], 26, {rotate:-90});
  rich(svg, 314, 469, [{t:"E",i:true},{t:" [eV]"}], 24);
  label(svg, 128, 211, "Fermi sphere of cold Al", 16, 168, {rotate:-90});
  label(svg, 301, 102, "Photoionized", 15.5, 93);
  label(svg, 301, 120, "electrons", 15.5, 62);
  arrow(svg, 277, 86, 238, 47);
  label(svg, 424, 164, "Auger electrons", 15.5, 112);
  seriesTimes.forEach((s,k) => {
    const yy = 36 + 18*k;
    svg.append("line").attr("x1",393).attr("x2",429).attr("y1",yy).attr("y2",yy)
      .attr("stroke",seriesColors[k]).attr("stroke-width",1.5).attr("stroke-dasharray",seriesDash[k]);
    rich(svg, 436, yy+5, [{t:"t",i:true},{t:"0",sub:true},{t:" "+s}], 16, {anchor:"start", len: s.length>7?75:68.5});
  });
  label(svg, 275, 518, captions[0], 22, 453);
}

// ---------- (b) ----------
{
  const P = mkPanel("b",664,11,436,402);
  const x = d3.scaleLinear().domain([0,2.5]).range([664,1100]);
  const y = d3.scaleLinear().domain([-2000,2000]).range([413,11]);
  const line = d3.line().x(d=>x(d[0])).y(d=>y(d[1])).curve(d3.curveMonotoneX);
  const reS = [re_tm10,re_tm5,re_t0,re_tp5,re_tp10,re_tp100];
  const imS = [im_tm10,im_tm5,im_t0,im_tp5,im_tp10,im_tp100];
  for (let k=5; k>=0; k--) { path(P.plot, reS[k], line, k); path(P.plot, imS[k], line, k); }
  P.plot.append("line").attr("x1",x(0)).attr("x2",x(2.5)).attr("y1",y(0)).attr("y2",y(0))
    .attr("stroke","#222").attr("stroke-width",1.2).attr("stroke-dasharray","2.5,2.5");
  xAxes(P, x, xTicksB, xMinorB, d3.format(".1f"), 11, 6, 6);
  yAxesLin(P, y, yTicksB, yMinorB, 6);
  frame(P);
  const bx0 = x(zoomBox[0][0]), bx1 = x(zoomBox[1][0]), by0 = y(zoomBox[1][1]), by1 = y(zoomBox[0][1]);
  P.over.append("rect").attr("x",bx0).attr("y",by0).attr("width",bx1-bx0).attr("height",by1-by0)
    .attr("fill","none").attr("stroke","#222").attr("stroke-width",1.2);
  const ix0=891, ix1=1065, iy0=41, iy1=162;
  P.over.append("line").attr("x1",bx0).attr("y1",by0).attr("x2",ix0).attr("y2",iy1).attr("stroke","#999").attr("stroke-width",1).attr("stroke-dasharray","3,3");
  P.over.append("line").attr("x1",bx1).attr("y1",by0).attr("x2",ix1).attr("y2",iy1).attr("stroke","#999").attr("stroke-width",1).attr("stroke-dasharray","3,3");
  defs.append("clipPath").attr("id","cpinset").append("rect").attr("x",ix0).attr("y",iy0).attr("width",ix1-ix0).attr("height",iy1-iy0);
  const ig = P.over.append("g");
  ig.append("rect").attr("x",ix0).attr("y",iy0).attr("width",ix1-ix0).attr("height",iy1-iy0).attr("fill","#fff");
  const xi = d3.scaleLinear().domain(insetRangeE).range([ix0,ix1]);
  const yi = d3.scaleLinear().domain(insetRangeV).range([iy1,iy0]);
  const ip = ig.append("g").attr("clip-path","url(#cpinset)");
  ip.append("line").attr("x1",ix0).attr("x2",ix1).attr("y1",yi(0)).attr("y2",yi(0))
    .attr("stroke","#222").attr("stroke-width",1.2).attr("stroke-dasharray","2.5,2.5");
  const iline = d3.line().x(d=>xi(d[0])).y(d=>yi(d[1])).curve(d3.curveMonotoneX);
  for (let k=5; k>=0; k--) path(ip, imS[k], iline, k, 1.6);
  ig.append("rect").attr("x",ix0).attr("y",iy0).attr("width",ix1-ix0).attr("height",iy1-iy0)
    .attr("fill","none").attr("stroke","#2a2a2a").attr("stroke-width",1.4);
  label(svg, 738, 58, "Imaginary part", 15.5, 108);
  label(svg, 733, 264, "Bulk", 15, 32);
  label(svg, 733, 282, "components", 15, 86);
  label(svg, 759, 345, "Real part", 15.5, 67);
  label(svg, 890, 317, "Photoelectron", 15.5, 100);
  label(svg, 890, 335, "BAM feature", 15.5, 94);
  arrow(svg, 890, 302, 903, 243);
  label(svg, 1012, 274, "Auger electron", 15.5, 105);
  label(svg, 1012, 293, "BAM feature", 15.5, 94);
  arrow(svg, 1030, 260, 1046, 225);
  rich(svg, 600, 212, [{t:"Re "},{t:"ε",i:true},{t:"ee",i:true,sub:true},{t:"("},{t:"k",i:true},{t:", "},{t:"ω",i:true},{t:"), Im "},{t:"ε",i:true},{t:"ee",i:true,sub:true},{t:"("},{t:"k",i:true},{t:", "},{t:"ω",i:true},{t:")"}], 25, {rotate:-90});
  rich(svg, 881, 469, [{t:"E",i:true},{t:" [eV]"}], 24);
  label(svg, 838, 518, captions[1], 22, 406);
}

// ---------- (c) & (d) ----------
const omegaGrid = [-4].concat(d3.range(105).map(i => Math.round((OMEGA_START + OMEGA_STEP*i)*100)/100), [4]);
function drawSF(id, x0, seriesArr, pinkPts, coldPts, eLo) {
  const P = mkPanel(id, x0, 562, 436, 401);
  const x = d3.scaleLinear().domain([-4,4]).range([x0, x0+436]);
  const y = d3.scaleLog().domain([Math.pow(10,eLo),1]).range([963,562]).clamp(true);
  const line = d3.line().x(d=>x(d[0])).y(d=>y(p10(d[1])));
  path(P.plot, pinkPts, line, 5);
  for (let k=4; k>=0; k--) {
    const vals = [FLOOR].concat(seriesArr[k], [FLOOR]);
    path(P.plot, omegaGrid.map((w,i)=>[w, vals[i]]), line, k, 1.5);
  }
  P.plot.append("path").datum(coldPts).attr("d",line).attr("fill","none").attr("stroke","#000").attr("stroke-width",1.7);
  xAxes(P, x, xTicksCD, xMinorCD, d=>String(d), 12.5, 6, 6);
  yAxesLog(P, y, eLo, 0);
  frame(P);
  return P;
}
{
  drawSF("c", 96, [S0_tm10,S0_tm5,S0_t0,S0_tp5,S0_tp10], S0_tp100, S0_cold, -5);
  label(svg, 178, 688, "Cold solid Al", 15.5, 95);
  arrow(svg, 202, 696, 300, 764);
  rich(svg, 33, 764, [{t:"S",i:true},{t:"0",sup:true},{t:"e",i:true,sub:true,dx:-6.5},{t:"("},{t:"k",i:true},{t:", "},{t:"ω",i:true},{t:") [eV"},{t:"−1",sup:true},{t:"]"}], 25, {rotate:-90});
  rich(svg, 314, 1019, [{t:"ħω",i:true},{t:" [eV]"}], 24);
  label(svg, 278, 1064, captions[2], 22, 387);
}
{
  drawSF("d", 664, [See_tm10,See_tm5,See_t0,See_tp5,See_tp10], See_tp100, See_cold, -6);
  svg.append("rect").attr("x",697).attr("y",846).attr("width",108).attr("height",42).attr("fill","#fff");
  label(svg, 750, 862, "Cold solid Al:", 15.5, 99);
  label(svg, 750, 882, "Non-collective", 15.5, 102);
  arrow(svg, 810, 865, 852, 851);
  rich(svg, 600, 763, [{t:"S",i:true},{t:"ee",i:true,sub:true},{t:"("},{t:"k",i:true},{t:", "},{t:"ω",i:true},{t:") [10"},{t:"−5",sup:true},{t:" eV"},{t:"−1",sup:true},{t:"]"}], 25, {rotate:-90});
  rich(svg, 881, 1019, [{t:"ħω",i:true},{t:" [eV]"}], 24);
  label(svg, 846, 1064, captions[3], 22, 273);
}
</script>
</body>
</html>
